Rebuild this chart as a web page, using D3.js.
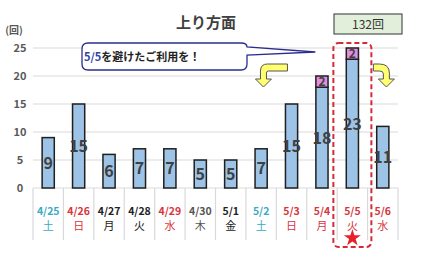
<!DOCTYPE html>
<html>
<head>
<meta charset="utf-8">
<script src="https://cdn.jsdelivr.net/npm/d3@7"></script>
<style>
  body { margin: 0; background: #fff; }
  svg { font-family: "Noto Sans CJK JP", "Noto Sans", sans-serif; }
</style>
</head>
<body>
<svg id="js-svg" width="427" height="261"></svg>
<script>
const dates = ["4/25", "4/26", "4/27", "4/28", "4/29", "4/30", "5/1", "5/2", "5/3", "5/4", "5/5", "5/6"];
const weekdays = ["土", "日", "月", "火", "水", "木", "金", "土", "日", "月", "火", "水"];
const dayColors = ["#3aaac4", "#d8343c", "#222", "#222", "#d8343c", "#555", "#222", "#3aaac4", "#d8343c", "#d8343c", "#d8343c", "#d8343c"];
const baseValues = [9, 15, 6, 7, 7, 5, 5, 7, 15, 18, 23, 11];
const extraValues = [0, 0, 0, 0, 0, 0, 0, 0, 0, 2, 2, 0];
const yTicks = [0, 5, 10, 15, 20, 25];
const total = "132回";
const highlightDay = "5/5";

const svg = d3.select("#js-svg");
const plotLeft = 33, plotRight = 398, plotTop = 48, plotBottom = 188;

const x = d3.scaleBand().domain(dates).range([plotLeft, plotRight]).paddingInner(0.6).paddingOuter(0.3);
const y = d3.scaleLinear().domain([0, 25]).range([plotBottom, plotTop]);
const step = x.step();

// grid lines
svg.append("g")
  .selectAll("line")
  .data(yTicks)
  .join("line")
  .attr("x1", plotLeft)
  .attr("x2", plotRight)
  .attr("y1", (d) => y(d))
  .attr("y2", (d) => y(d))
  .style("stroke", "#d9d9d9")
  .style("stroke-width", "1.2px");

// y labels
svg.append("g")
  .selectAll("text")
  .data(yTicks)
  .join("text")
  .attr("x", 20)
  .attr("y", (d) => y(d) + 4)
  .attr("text-anchor", "middle")
  .style("font-size", "11px")
  .style("font-weight", "bold")
  .style("fill", "#595959")
  .text((d) => d);

svg.append("text")
  .attr("x", 14)
  .attr("y", 34)
  .attr("text-anchor", "middle")
  .style("font-size", "10px")
  .style("font-weight", "bold")
  .style("fill", "#595959")
  .text("(回)");

// category separators
const seps = d3.range(dates.length + 1).map((i) => plotLeft + i * step);
svg.append("g")
  .selectAll("line")
  .data(seps)
  .join("line")
  .attr("x1", (d) => d)
  .attr("x2", (d) => d)
  .attr("y1", plotBottom)
  .attr("y2", 240)
  .style("stroke", "#d9d9d9")
  .style("stroke-width", "1.2px");

// bars
const bars = svg.append("g");
bars.selectAll("rect.base")
  .data(dates)
  .join("rect")
  .attr("class", "base")
  .attr("x", (d) => x(d))
  .attr("width", x.bandwidth())
  .attr("y", (d, i) => y(baseValues[i]))
  .attr("height", (d, i) => plotBottom - y(baseValues[i]))
  .style("fill", "#9dc3e6")
  .style("stroke", "#1f1f1f")
  .style("stroke-width", "1.5px");

bars.selectAll("rect.extra")
  .data(dates.filter((d, i) => extraValues[i] > 0))
  .join("rect")
  .attr("class", "extra")
  .attr("x", (d) => x(d))
  .attr("width", x.bandwidth())
  .attr("y", (d) => { const i = dates.indexOf(d); return y(baseValues[i] + extraValues[i]); })
  .attr("height", (d) => { const i = dates.indexOf(d); return y(baseValues[i]) - y(baseValues[i] + extraValues[i]); })
  .style("fill", "#e08ee0")
  .style("stroke", "#1f1f1f")
  .style("stroke-width", "1.5px");

// value labels
svg.append("g")
  .selectAll("text")
  .data(dates)
  .join("text")
  .attr("x", (d) => x(d) + x.bandwidth() / 2)
  .attr("y", (d, i) => y(baseValues[i] / 2) + 6)
  .attr("text-anchor", "middle")
  .style("font-size", "16px")
  .style("font-weight", "bold")
  .style("fill", "#404040")
  .text((d, i) => baseValues[i]);

svg.append("g")
  .selectAll("text")
  .data(dates.filter((d, i) => extraValues[i] > 0))
  .join("text")
  .attr("x", (d) => x(d) + x.bandwidth() / 2)
  .attr("y", (d) => { const i = dates.indexOf(d); return y(baseValues[i] + extraValues[i] / 2) + 4.5; })
  .attr("text-anchor", "middle")
  .style("font-size", "12px")
  .style("font-weight", "bold")
  .style("fill", "#404040")
  .text((d) => extraValues[dates.indexOf(d)]);

// x labels
const xl = svg.append("g");
xl.selectAll("text.date")
  .data(dates)
  .join("text")
  .attr("class", "date")
  .attr("x", (d) => x(d) + x.bandwidth() / 2)
  .attr("y", 215)
  .attr("text-anchor", "middle")
  .style("font-size", "10.5px")
  .style("font-weight", "bold")
  .style("fill", (d, i) => dayColors[i])
  .text((d) => d);
xl.selectAll("text.wd")
  .data(dates)
  .join("text")
  .attr("class", "wd")
  .attr("x", (d) => x(d) + x.bandwidth() / 2)
  .attr("y", 230)
  .attr("text-anchor", "middle")
  .style("font-size", "11px")
  .style("fill", (d, i) => dayColors[i])
  .text((d, i) => weekdays[i]);

// title
svg.append("text")
  .attr("x", 206)
  .attr("y", 28)
  .attr("text-anchor", "middle")
  .style("font-size", "15px")
  .style("font-weight", "bold")
  .style("fill", "#404040")
  .text("上り方面");

// total box
svg.append("rect")
  .attr("x", 334).attr("y", 14)
  .attr("width", 68).attr("height", 20)
  .style("fill", "#e2efda")
  .style("stroke", "#333")
  .style("stroke-width", "1px");
svg.append("text")
  .attr("x", 368).attr("y", 28.5)
  .attr("text-anchor", "middle")
  .style("font-size", "12px")
  .style("fill", "#333")
  .text(total);

// highlight box around 5/5
const hx = x(highlightDay) + x.bandwidth() / 2;
svg.append("rect")
  .attr("x", hx - 19).attr("y", 43)
  .attr("width", 38).attr("height", 204)
  .attr("rx", 5)
  .style("fill", "none")
  .style("stroke", "#d42b3a")
  .style("stroke-width", "2px")
  .style("stroke-dasharray", "5,3");

svg.append("path")
  .attr("d", d3.symbol(d3.symbolStar, 90)())
  .attr("transform", `translate(${hx}, 238)`)
  .style("fill", "#e8202a");

// callout
const tipX = hx - 37;
svg.append("path")
  .attr("d", `M88,43 H241 Q247,43 247,47 L${tipX},52 L247,55 V64 Q247,70 241,70 H88 Q82,70 82,64 V49 Q82,43 88,43 Z`)
  .style("fill", "#fff")
  .style("stroke", "#2a2f8f")
  .style("stroke-width", "1.3px");
const ct = svg.append("text")
  .attr("x", 84).attr("y", 61)
  .style("font-size", "11px")
  .style("font-weight", "bold");
ct.append("tspan").style("fill", "#2f44a8").text("5/5");
ct.append("tspan").style("fill", "#222").text("を避けたご利用を！");

// yellow bent arrows
const arrowStyle = (sel) => sel
  .style("fill", "#ffff70")
  .style("stroke", "#555")
  .style("stroke-width", "1px")
  .style("stroke-linejoin", "round");

const lx = x("5/3") + 2;
svg.append("path")
  .attr("d", `M${lx},64 H${lx - 20} Q${lx - 27},64 ${lx - 27},71 V79 H${lx - 32} L${lx - 24},87 L${lx - 16},79 H${lx - 21} V73 Q${lx - 21},71 ${lx - 19},71 H${lx} Z`)
  .call(arrowStyle);

const rx = hx + 21;
svg.append("path")
  .attr("d", `M${rx},64 H${rx + 6} Q${rx + 16},64 ${rx + 16},73 V79 H${rx + 21} L${rx + 13},87 L${rx + 5},79 H${rx + 10} V74 Q${rx + 10},71 ${rx + 6},71 H${rx} Z`)
  .call(arrowStyle);
</script>
</body>
</html>
